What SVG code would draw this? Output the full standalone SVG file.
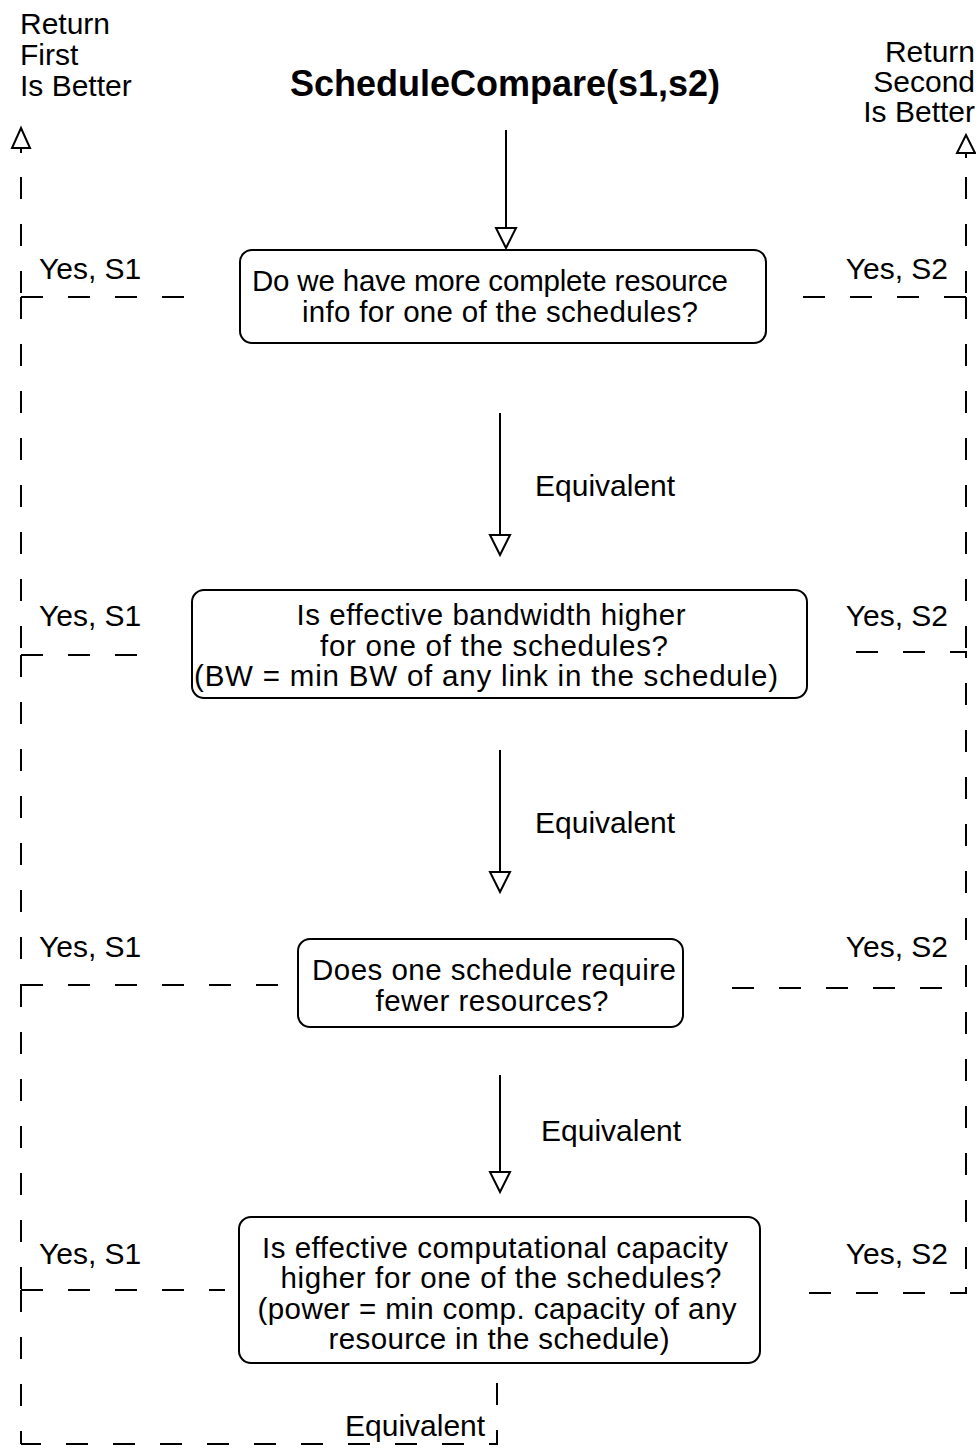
<svg xmlns="http://www.w3.org/2000/svg" width="976" height="1448" viewBox="0 0 976 1448">
  <style>
    text { font-family: "Liberation Sans", Arial, Helvetica, sans-serif; font-size: 30px; fill: #000; }
    .title { font-size: 36px; font-weight: bold; }
    .q { font-size: 29.5px; text-anchor: middle; }
    .end { text-anchor: end; }
    .box { fill: #fff; stroke: #000; stroke-width: 2; }
    .flow { fill: none; stroke: #000; stroke-width: 2; }
    .dash { fill: none; stroke: #000; stroke-width: 2; stroke-dasharray: 22 25; }
    .head { fill: #fff; stroke: #000; stroke-width: 2; stroke-linejoin: miter; }
  </style>

  <!-- column headings -->
  <g id="return-first">
    <text x="20" y="34">Return</text>
    <text x="20" y="65">First</text>
    <text x="20" y="96">Is Better</text>
  </g>
  <g id="return-second">
    <text class="end" x="975" y="62">Return</text>
    <text class="end" x="975" y="92">Second</text>
    <text class="end" x="975" y="122">Is Better</text>
  </g>
  <g id="title">
    <text class="title" x="505" y="96" text-anchor="middle">ScheduleCompare(s1,s2)</text>
  </g>

  <!-- decision boxes -->
  <g id="q-resource-info">
    <rect class="box" x="240" y="250" width="526" height="93" rx="12"/>
    <text class="q" x="490" y="291" textLength="476" lengthAdjust="spacing">Do we have more complete resource</text>
    <text class="q" x="500" y="322" textLength="396" lengthAdjust="spacing">info for one of the schedules?</text>
  </g>
  <g id="q-bandwidth">
    <rect class="box" x="192" y="590" width="615" height="108" rx="12"/>
    <text class="q" x="491" y="625" textLength="389" lengthAdjust="spacing">Is effective bandwidth higher</text>
    <text class="q" x="494" y="656" textLength="348" lengthAdjust="spacing">for one of the schedules?</text>
    <text class="q" x="486" y="686" textLength="584" lengthAdjust="spacing">(BW = min BW of any link in the schedule)</text>
  </g>
  <g id="q-resources">
    <rect class="box" x="298" y="939" width="385" height="88" rx="12"/>
    <text class="q" x="494" y="980" textLength="364" lengthAdjust="spacing">Does one schedule require</text>
    <text class="q" x="492" y="1011" textLength="233" lengthAdjust="spacing">fewer resources?</text>
  </g>
  <g id="q-capacity">
    <rect class="box" x="239" y="1217" width="521" height="146" rx="12"/>
    <text class="q" x="495" y="1258" textLength="466" lengthAdjust="spacing">Is effective computational capacity</text>
    <text class="q" x="501" y="1288" textLength="441" lengthAdjust="spacing">higher for one of the schedules?</text>
    <text class="q" x="497" y="1319" textLength="479" lengthAdjust="spacing">(power = min comp. capacity of any</text>
    <text class="q" x="499" y="1349" textLength="341" lengthAdjust="spacing">resource in the schedule)</text>
  </g>

  <!-- connectors -->
  <g id="connectors">
    <!-- main flow: solid lines with open heads -->
    <path class="flow" d="M506 130 V228"/>
    <path class="head" d="M496 228 H516 L506 248 Z"/>
    <path class="flow" d="M500 413 V535"/>
    <path class="head" d="M490 535 H510 L500 555 Z"/>
    <path class="flow" d="M500 750 V872"/>
    <path class="head" d="M490 872 H510 L500 892 Z"/>
    <path class="flow" d="M500 1075 V1172"/>
    <path class="head" d="M490 1172 H510 L500 1192 Z"/>

    <!-- left trunk: "first is better" -->
    <path class="flow" d="M21 148 V153"/>
    <path class="head" d="M12 148 H30 L21 128 Z"/>
    <path class="dash" d="M21 297 V150" stroke-dashoffset="43"/>
    <path class="dash" d="M21 297 V655"/>
    <path class="dash" d="M21 655 V985"/>
    <path class="dash" d="M21 985 V1290"/>
    <path class="dash" d="M21 1290 V1444"/>
    <path class="dash" d="M497 1363 V1444 H21" stroke-dashoffset="27"/>
    <!-- left branches -->
    <path class="dash" d="M21 297 H185"/>
    <path class="dash" d="M21 655 H137"/>
    <path class="dash" d="M21 985 H278"/>
    <path class="dash" d="M21 1290 H225"/>

    <!-- right trunk: "second is better" -->
    <path class="flow" d="M966 153 V158"/>
    <path class="head" d="M957 153 H975 L966 135 Z"/>
    <path class="dash" d="M966 297 V155" stroke-dashoffset="43"/>
    <path class="dash" d="M966 297 V652"/>
    <!-- right branches -->
    <path class="dash" d="M803 297 H966"/>
    <path class="dash" d="M850 652 H966 V1293" stroke-dashoffset="41"/>
    <path class="dash" d="M732 988 H944"/>
    <path class="dash" d="M809 1293 H966 V1270"/>

    <!-- branch labels -->
    <text x="39" y="279">Yes, S1</text>
    <text x="39" y="626">Yes, S1</text>
    <text x="39" y="957">Yes, S1</text>
    <text x="39" y="1264">Yes, S1</text>
    <text class="end" x="948" y="279">Yes, S2</text>
    <text class="end" x="948" y="626">Yes, S2</text>
    <text class="end" x="948" y="957">Yes, S2</text>
    <text class="end" x="948" y="1264">Yes, S2</text>
    <text x="535" y="496">Equivalent</text>
    <text x="535" y="833">Equivalent</text>
    <text x="541" y="1141">Equivalent</text>
    <text x="345" y="1436">Equivalent</text>
  </g>
</svg>
